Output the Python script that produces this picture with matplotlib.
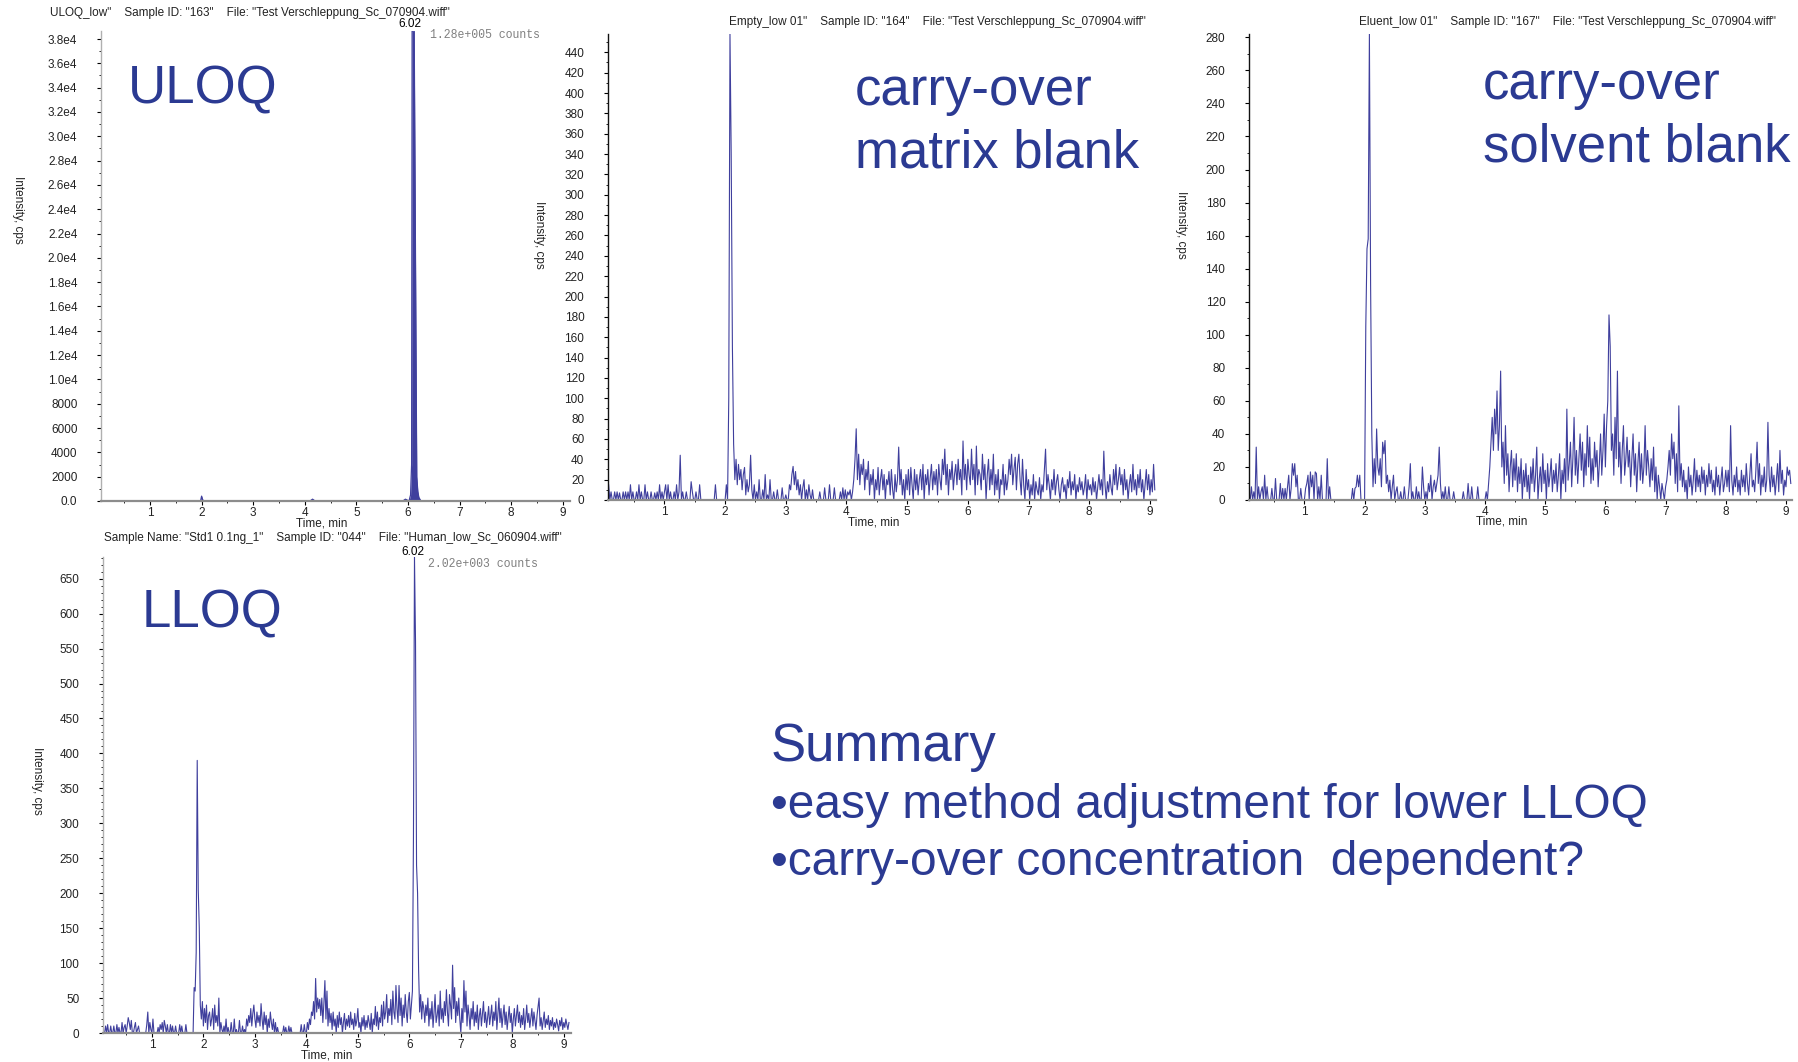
import numpy as np
import matplotlib
matplotlib.use('Agg')
import matplotlib.pyplot as plt
from matplotlib.ticker import FixedLocator, AutoMinorLocator

plt.rcParams['font.family'] = ['Liberation Sans', 'DejaVu Sans']

W, H = 1798, 1062
TRACE = '#3f3f9d'
BIG = '#2b3a92'

# scan grid of the noisy traces (min)
scan_start = 0.08
scan_step = 0.02

# "Empty_low 01" - carry-over matrix blank, cps
matrix_blank = [
    15, 0, 8, 0, 0, 8, 0, 8, 0, 7, 0, 0, 8, 0, 8,
    0, 8, 0, 15, 0, 8, 0, 0, 8, 0, 15, 0, 8, 0, 0,
    15, 0, 8, 0, 0, 8, 0, 0, 7, 0, 8, 0, 15, 0, 8,
    0, 8, 15, 0, 15, 0, 8, 0, 0, 8, 0, 15, 0, 8, 44,
    0, 8, 0, 0, 8, 0, 0, 0, 18, 8, 0, 0, 8, 0, 0,
    15, 0, 0, 0, 0, 0, 0, 0, 0, 0, 0, 0, 0, 15, 0,
    0, 0, 0, 0, 0, 0, 0, 15, 0, 100, 458, 340, 150, 55, 20,
    40, 15, 35, 20, 30, 10, 25, 32, 5, 20, 8, 15, 44, 10, 0,
    15, 0, 8, 0, 20, 0, 0, 10, 0, 25, 0, 5, 0, 20, 0,
    0, 8, 0, 0, 10, 0, 0, 0, 12, 0, 0, 5, 0, 0, 15,
    10, 25, 33, 15, 28, 10, 20, 5, 15, 0, 12, 20, 0, 10, 0,
    15, 5, 0, 10, 0, 0, 0, 0, 0, 8, 0, 0, 0, 12, 0,
    0, 0, 15, 0, 0, 0, 12, 0, 0, 0, 0, 8, 0, 12, 0,
    10, 0, 8, 5, 10, 0, 8, 20, 40, 70, 20, 45, 15, 35, 25,
    40, 10, 30, 20, 38, 5, 25, 15, 30, 0, 20, 10, 32, 5, 20,
    30, 10, 25, 0, 20, 15, 28, 5, 30, 10, 0, 25, 8, 20, 52,
    15, 30, 5, 20, 0, 25, 10, 30, 5, 32, 15, 0, 30, 10, 25,
    5, 20, 30, 10, 35, 0, 25, 15, 30, 5, 22, 35, 10, 28, 15,
    30, 5, 35, 20, 10, 40, 25, 50, 15, 35, 5, 30, 20, 38, 10,
    25, 35, 15, 40, 20, 30, 5, 58, 20, 35, 10, 40, 25, 15, 50,
    20, 35, 5, 53, 15, 30, 25, 10, 45, 20, 35, 0, 25, 40, 10,
    30, 15, 45, 5, 25, 10, 30, 0, 20, 15, 35, 5, 25, 10, 20,
    40, 25, 45, 15, 30, 42, 10, 35, 45, 20, 5, 40, 15, 0, 30,
    10, 20, 0, 15, 5, 25, 0, 18, 10, 5, 22, 0, 15, 8, 30,
    50, 10, 25, 15, 0, 20, 10, 30, 5, 18, 25, 10, 0, 15, 22,
    8, 15, 0, 20, 12, 28, 5, 18, 10, 25, 0, 15, 8, 22, 10,
    18, 5, 12, 25, 0, 20, 10, 15, 5, 22, 8, 18, 0, 12, 25,
    10, 20, 5, 48, 15, 0, 18, 8, 25, 12, 5, 30, 15, 35, 10,
    20, 32, 15, 25, 5, 30, 10, 20, 0, 15, 25, 8, 35, 10, 20,
    5, 25, 12, 30, 8, 20, 0, 15, 30, 10, 25, 5, 20, 8, 35, 10,
]

# "Eluent_low 01" - carry-over solvent blank, cps
solvent_blank = [
    0, 0, 8, 0, 5, 0, 32, 0, 8, 0, 5, 8, 0, 15, 0,
    8, 0, 0, 0, 7, 0, 0, 13, 0, 0, 0, 10, 0, 7, 0,
    7, 0, 8, 15, 0, 7, 22, 15, 22, 8, 15, 0, 0, 7, 0,
    0, 0, 7, 10, 15, 0, 17, 8, 15, 0, 17, 16, 0, 8, 0,
    15, 0, 0, 0, 0, 25, 0, 8, 0, 0, 0, 0, 0, 0, 0,
    0, 0, 0, 0, 0, 0, 0, 0, 0, 0, 0, 7, 0, 7, 8,
    15, 8, 15, 0, 0, 0, 0, 105, 152, 158, 282, 130, 40, 8, 25,
    10, 43, 20, 15, 25, 8, 35, 28, 36, 10, 15, 5, 12, 0, 8,
    15, 0, 5, 8, 0, 0, 5, 0, 0, 8, 0, 0, 0, 8, 22,
    0, 5, 0, 0, 8, 0, 5, 0, 0, 20, 8, 0, 5, 0, 10,
    5, 15, 0, 8, 12, 5, 10, 15, 32, 10, 0, 5, 0, 8, 0,
    0, 8, 0, 0, 0, 5, 0, 0, 0, 0, 0, 0, 0, 5, 0,
    0, 0, 10, 0, 0, 8, 0, 0, 0, 0, 8, 0, 0, 0, 0,
    0, 0, 5, 0, 10, 20, 35, 50, 30, 55, 40, 66, 30, 45, 78,
    20, 35, 10, 45, 15, 28, 5, 20, 30, 8, 25, 12, 28, 5, 20,
    10, 25, 0, 18, 8, 22, 5, 15, 0, 20, 10, 25, 5, 15, 32,
    0, 12, 20, 5, 28, 10, 18, 0, 22, 8, 15, 25, 5, 18, 10,
    22, 5, 15, 28, 0, 18, 10, 25, 5, 55, 12, 22, 35, 8, 25,
    50, 15, 30, 10, 25, 40, 18, 35, 8, 28, 15, 45, 20, 38, 10,
    25, 12, 35, 20, 30, 8, 22, 40, 15, 30, 52, 20, 45, 60, 112,
    93, 30, 40, 15, 50, 25, 78, 20, 35, 10, 30, 45, 15, 25, 38,
    20, 30, 8, 25, 40, 15, 28, 5, 22, 35, 12, 28, 10, 20, 45,
    15, 30, 20, 8, 25, 12, 32, 5, 20, 0, 15, 8, 0, 10, 5,
    0, 8, 12, 20, 30, 15, 40, 25, 35, 10, 28, 5, 57, 12, 22,
    8, 18, 5, 12, 0, 20, 8, 15, 3, 12, 25, 5, 18, 8, 15,
    5, 20, 10, 18, 3, 15, 8, 22, 10, 18, 5, 12, 3, 20, 8,
    15, 3, 12, 20, 5, 10, 18, 8, 18, 5, 45, 12, 3, 15, 8,
    20, 5, 12, 3, 18, 8, 15, 5, 22, 10, 3, 15, 28, 8, 12,
    5, 18, 35, 10, 22, 3, 15, 8, 20, 5, 12, 47, 15, 5, 20,
    8, 15, 3, 12, 22, 5, 30, 10, 18, 3, 12, 8, 20, 15, 18, 10,
]

# "Std1 0.1ng_1" - LLOQ standard, cps
lloq = [
    0, 10, 0, 12, 0, 0, 10, 0, 0, 10, 0, 0, 12, 0, 8,
    0, 0, 15, 0, 8, 12, 0, 10, 22, 15, 5, 18, 0, 0, 8,
    15, 0, 5, 10, 0, 0, 0, 0, 0, 0, 0, 12, 30, 0, 15,
    5, 0, 20, 0, 0, 0, 0, 8, 0, 12, 5, 15, 0, 18, 10,
    0, 12, 0, 0, 12, 0, 10, 0, 0, 10, 0, 0, 0, 12, 0,
    10, 0, 0, 0, 12, 0, 0, 0, 0, 0, 0, 0, 65, 60, 115,
    390, 205, 150, 40, 20, 45, 10, 35, 15, 40, 5, 25, 30, 10, 20,
    35, 5, 40, 15, 25, 10, 50, 0, 15, 5, 0, 10, 0, 20, 0,
    8, 0, 0, 15, 0, 0, 20, 0, 5, 0, 0, 18, 0, 0, 10,
    0, 5, 0, 20, 10, 25, 15, 35, 10, 28, 40, 20, 8, 30, 15,
    25, 10, 42, 20, 5, 30, 12, 25, 0, 20, 8, 30, 15, 5, 20,
    0, 15, 0, 8, 0, 0, 0, 0, 0, 10, 0, 8, 0, 0, 10,
    0, 8, 0, 0, 0, 0, 0, 0, 0, 0, 0, 12, 0, 0, 12,
    0, 0, 15, 5, 20, 12, 30, 25, 45, 20, 78, 30, 50, 35, 48,
    25, 50, 15, 42, 75, 20, 60, 10, 35, 15, 28, 5, 30, 10, 20,
    0, 25, 8, 30, 12, 22, 0, 15, 28, 5, 20, 10, 25, 8, 30,
    12, 20, 5, 28, 10, 18, 35, 8, 15, 0, 22, 10, 25, 5, 18,
    8, 25, 15, 5, 28, 0, 20, 12, 38, 10, 30, 5, 22, 15, 40,
    10, 45, 20, 30, 55, 15, 35, 25, 48, 12, 60, 30, 20, 68, 35,
    15, 68, 25, 50, 10, 40, 22, 55, 30, 15, 45, 58, 20, 40, 60,
    280, 681, 560, 240, 200, 90, 30, 55, 20, 45, 35, 15, 40, 25, 50,
    10, 35, 20, 45, 8, 30, 55, 15, 25, 40, 10, 60, 20, 35, 15,
    45, 25, 62, 30, 10, 55, 40, 20, 97, 35, 65, 15, 45, 25, 50,
    20, 0, 35, 15, 75, 30, 60, 10, 40, 25, 5, 35, 20, 45, 10,
    30, 15, 40, 5, 25, 35, 10, 28, 45, 15, 30, 8, 22, 38, 12,
    25, 40, 10, 30, 18, 45, 5, 28, 50, 15, 35, 8, 25, 40, 12,
    30, 5, 22, 38, 15, 28, 0, 20, 35, 10, 25, 40, 15, 30, 8,
    25, 12, 35, 5, 20, 40, 15, 28, 8, 22, 35, 10, 30, 18, 5,
    25, 38, 50, 10, 22, 5, 18, 30, 8, 20, 12, 25, 5, 18, 10,
    22, 5, 15, 8, 20, 12, 3, 18, 10, 22, 5, 15, 8, 20, 12, 5, 15,
]

# "ULOQ_low" - mostly flat baseline with one big peak
uloq_time = [0.05, 1.0, 1.98, 2.0, 2.02, 2.05, 3.0, 4.1, 4.15, 4.2, 5.0,
             5.9, 5.95, 6.02, 6.05, 6.07, 6.08, 6.12, 6.14, 6.16, 6.17,
             6.19, 6.21, 6.25, 7.0, 8.0, 9.14]
uloq_cps = [0, 0, 0, 400, 100, 0, 0, 0, 150, 0, 0,
            0, 150, 0, 500, 3000, 38660, 38660, 24000, 9000, 2000,
            800, 300, 0, 0, 0, 0]

uloq_yticks = [0, 2000, 4000, 6000, 8000, 10000, 12000, 14000, 16000, 18000,
               20000, 22000, 24000, 26000, 28000, 30000, 32000, 34000,
               36000, 38000]
uloq_ylabels = ['0.0', '2000', '4000', '6000', '8000', '1.0e4', '1.2e4',
                '1.4e4', '1.6e4', '1.8e4', '2.0e4', '2.2e4', '2.4e4',
                '2.6e4', '2.8e4', '3.0e4', '3.2e4', '3.4e4', '3.6e4', '3.8e4']
matrix_yticks = list(range(0, 441, 20))
solvent_yticks = list(range(0, 281, 20))
lloq_yticks = list(range(0, 651, 50))
time_ticks = [1, 2, 3, 4, 5, 6, 7, 8, 9]

titles = [
    'ULOQ_low"    Sample ID: "163"    File: "Test Verschleppung_Sc_070904.wiff"',
    'Empty_low 01"    Sample ID: "164"    File: "Test Verschleppung_Sc_070904.wiff"',
    'Eluent_low 01"    Sample ID: "167"    File: "Test Verschleppung_Sc_070904.wiff"',
    'Sample Name: "Std1 0.1ng_1"    Sample ID: "044"    File: "Human_low_Sc_060904.wiff"',
]


def scan_times(values):
    return scan_start + scan_step * np.arange(len(values))


def fpos(x, y):
    return x / W, 1 - y / H


def setup(ax, xlim, ylim, yticks, ylabels, left_color, minor_y, ylab_xy, xlab_xy):
    ax.set_xlim(*xlim)
    ax.set_ylim(*ylim)
    ax.spines['top'].set_visible(False)
    ax.spines['right'].set_visible(False)
    ax.spines['bottom'].set_color('#8c8c8c')
    ax.spines['bottom'].set_linewidth(1.6)
    ax.spines['left'].set_color(left_color)
    ax.spines['left'].set_linewidth(1.0)
    ax.xaxis.set_major_locator(FixedLocator(time_ticks))
    ax.xaxis.set_minor_locator(AutoMinorLocator(2))
    ax.yaxis.set_major_locator(FixedLocator(yticks))
    if ylabels is not None:
        ax.set_yticklabels(ylabels)
    ax.yaxis.set_minor_locator(AutoMinorLocator(minor_y))
    ax.tick_params(which='major', length=3, width=0.8, labelsize=8.5,
                   labelcolor='#222222')
    ax.tick_params(which='minor', length=1.5, width=0.6)
    ax.tick_params(axis='x', pad=1.5)
    ax.tick_params(axis='y', pad=14)
    ax.set_xlabel('Time, min', fontsize=8.5, color='#222222')
    ax.set_ylabel('Intensity, cps', fontsize=8.5, color='#222222',
                  rotation=270, va='center')
    ax.yaxis.set_label_coords(*ylab_xy)
    ax.xaxis.set_label_coords(*xlab_xy)


fig = plt.figure(figsize=(W / 100, H / 100), dpi=100)

# ULOQ
ax1 = fig.add_axes([101 / W, 1 - 501 / H, 469 / W, 470 / H])
ax1.plot(uloq_time, uloq_cps, color=TRACE, lw=0.9)
ax1.fill_between(uloq_time, uloq_cps, color=TRACE, lw=0)
setup(ax1, (0.05, 9.14), (0, 38660), uloq_yticks, uloq_ylabels,
      '#b0b0b0', 2, (-0.177, 0.62), (0.47, -0.036))

# matrix blank
ax2 = fig.add_axes([608 / W, 1 - 500 / H, 548 / W, 466 / H])
ax2.plot(scan_times(matrix_blank), matrix_blank, color=TRACE, lw=0.8)
setup(ax2, (0.07, 9.1), (0, 458), matrix_yticks, None,
      '#111111', 2, (-0.126, 0.57), (0.485, -0.036))

# solvent blank
ax3 = fig.add_axes([1249 / W, 1 - 500 / H, 543 / W, 466 / H])
ax3.plot(scan_times(solvent_blank), solvent_blank, color=TRACE, lw=0.8)
setup(ax3, (0.08, 9.1), (0, 282), solvent_yticks, None,
      '#111111', 2, (-0.125, 0.59), (0.466, -0.034))

# LLOQ
ax4 = fig.add_axes([103 / W, 1 - 1033 / H, 468 / W, 476 / H])
ax4.plot(scan_times(lloq), lloq, color=TRACE, lw=0.8)
setup(ax4, (0.05, 9.14), (0, 681), lloq_yticks, None,
      '#b0b0b0', 5, (-0.141, 0.53), (0.479, -0.034))

# small header texts
for (x, y), s in zip([(50, 13), (729, 22), (1359, 22), (104, 538)], titles):
    fig.text(*fpos(x, y), s, fontsize=8.5, color='#222222', va='center')
fig.text(*fpos(410, 24), '6.02', fontsize=8.5, ha='center', va='center')
fig.text(*fpos(413, 552), '6.02', fontsize=8.5, ha='center', va='center')
fig.text(*fpos(430, 35), '1.28e+005 counts', fontsize=8.3, color='#808080',
         family='Liberation Mono', va='center')
fig.text(*fpos(428, 564), '2.02e+003 counts', fontsize=8.3, color='#808080',
         family='Liberation Mono', va='center')

# big slide labels
fig.text(*fpos(128, 104), 'ULOQ', fontsize=38, color=BIG)
fig.text(*fpos(142, 628), 'LLOQ', fontsize=38, color=BIG)
fig.text(*fpos(855, 105), 'carry-over', fontsize=38, color=BIG)
fig.text(*fpos(855, 168), 'matrix blank', fontsize=38, color=BIG)
fig.text(*fpos(1483, 99), 'carry-over', fontsize=38, color=BIG)
fig.text(*fpos(1483, 162), 'solvent blank', fontsize=38, color=BIG)

fig.text(*fpos(771, 761), 'Summary', fontsize=38, color=BIG)
fig.text(*fpos(771, 818), '\u2022easy method adjustment for lower LLOQ',
         fontsize=34.5, color=BIG)
fig.text(*fpos(771, 875), '\u2022carry-over concentration  dependent?',
         fontsize=34.5, color=BIG)

fig.savefig('out.png', dpi=100)
